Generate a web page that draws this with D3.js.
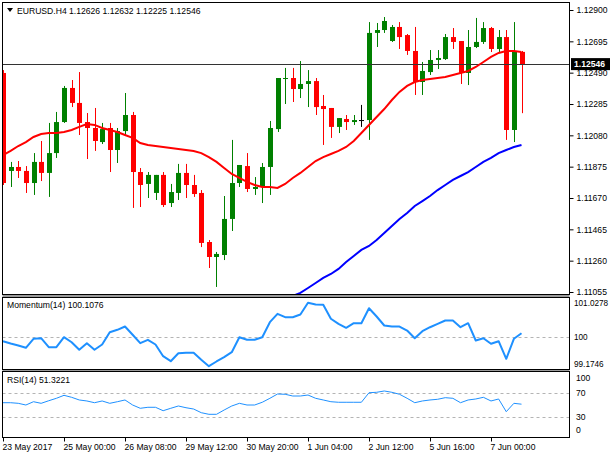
<!DOCTYPE html>
<html>
<head>
<meta charset="utf-8">
<script src="https://cdn.jsdelivr.net/npm/d3@7"></script>
<style>
  html, body { margin: 0; padding: 0; background: #fff; }
  svg { display: block; font-family: "Liberation Sans", Arial, sans-serif; }
</style>
</head>
<body>
<div id="chart"></div>
<script>
// EURUSD H4 candles
const opens = [1.12488,1.11847,1.11873,1.11847,1.11768,1.11906,1.11834,1.11964,1.12167,1.12390,
  1.12292,1.12167,1.12128,1.12036,1.12128,1.11984,1.12108,1.12213,1.11840,1.11762,
  1.11703,1.11821,1.11637,1.11703,1.11834,1.11755,1.11703,1.11382,1.11284,1.11297,
  1.11533,1.11768,1.11879,1.11729,1.11742,1.11873,1.12121,1.12449,1.12455,1.12383,
  1.12416,1.12435,1.12272,1.12259,1.12135,1.12187,1.12167,1.12180,1.12180,1.12750,
  1.12769,1.12697,1.12789,1.12736,1.12632,1.12429,1.12494,1.12573,1.12579,1.12723,
  1.12697,1.12488,1.12658,1.12691,1.12782,1.12645,1.12723,1.12115,1.12626];
const highs = [1.12507,1.11906,1.11912,1.11879,1.11964,1.12043,1.12161,1.12233,1.12403,1.12442,
  1.12494,1.12226,1.12259,1.12161,1.12161,1.12128,1.12357,1.12233,1.11866,1.11840,
  1.11821,1.11840,1.11762,1.11893,1.11893,1.11821,1.11722,1.11395,1.11317,1.11683,
  1.12050,1.11886,1.11964,1.11807,1.11899,1.12174,1.12455,1.12521,1.12521,1.12566,
  1.12507,1.12455,1.12344,1.12259,1.12193,1.12213,1.12213,1.12279,1.12821,1.12815,
  1.12854,1.12802,1.12821,1.12743,1.12789,1.12560,1.12638,1.12638,1.12743,1.12782,
  1.12697,1.12769,1.12848,1.12821,1.12789,1.12769,1.12769,1.12821,1.12632];
const lows = [1.11755,1.11742,1.11801,1.11703,1.11690,1.11781,1.11677,1.11932,1.12161,1.12265,
  1.12082,1.11925,1.11978,1.12023,1.11840,1.11899,1.12082,1.11605,1.11611,1.11670,
  1.11657,1.11611,1.11611,1.11657,1.11670,1.11677,1.11349,1.11212,1.11088,1.11264,
  1.11454,1.11742,1.11709,1.11690,1.11637,1.11690,1.12102,1.12285,1.12298,1.12324,
  1.12265,1.12213,1.12017,1.12063,1.12095,1.12115,1.12148,1.12135,1.12050,1.12658,
  1.12750,1.12691,1.12645,1.12606,1.12344,1.12344,1.12475,1.12514,1.12573,1.12645,
  1.12416,1.12409,1.12651,1.12678,1.12625,1.12619,1.12050,1.12036,1.12225];
const closes = [1.11768,1.11873,1.11847,1.11768,1.11906,1.11834,1.11964,1.12167,1.12390,1.12292,
  1.12161,1.12128,1.12043,1.12121,1.11984,1.12108,1.12213,1.11840,1.11755,1.11821,
  1.11821,1.11624,1.11709,1.11834,1.11755,1.11696,1.11376,1.11284,1.11304,1.11533,
  1.11768,1.11886,1.11729,1.11742,1.11873,1.12128,1.12455,1.12455,1.12383,1.12416,
  1.12435,1.12265,1.12252,1.12135,1.12193,1.12167,1.12180,1.12180,1.12750,1.12769,
  1.12828,1.12789,1.12723,1.12632,1.12429,1.12501,1.12573,1.12586,1.12723,1.12691,
  1.12488,1.12658,1.12691,1.12782,1.12645,1.12723,1.12115,1.12632,1.12546];

// moving averages (red fast, blue slow)
const maFast = [1.11951,1.11978,1.12010,1.12036,1.12069,1.12089,1.12095,1.12095,1.12102,1.12115,
  1.12135,1.12154,1.12148,1.12128,1.12115,1.12102,1.12082,1.12063,1.12030,1.12017,
  1.12010,1.12004,1.11997,1.11991,1.11984,1.11978,1.11964,1.11938,1.11906,1.11866,
  1.11827,1.11801,1.11775,1.11755,1.11742,1.11742,1.11736,1.11762,1.11801,1.11834,
  1.11873,1.11912,1.11938,1.11958,1.11978,1.12004,1.12043,1.12095,1.12148,1.12200,
  1.12252,1.12311,1.12364,1.12403,1.12429,1.12442,1.12449,1.12455,1.12462,1.12475,
  1.12488,1.12501,1.12527,1.12560,1.12593,1.12619,1.12632,1.12632,1.12625];
const maSlowStart = 38;
const maSlow = [1.11030,1.11049,1.11081,1.11114,1.11147,1.11173,1.11206,1.11251,1.11291,1.11330,1.11356,
  1.11395,1.11441,1.11487,1.11533,1.11572,1.11618,1.11650,1.11683,1.11722,1.11755,
  1.11788,1.11814,1.11840,1.11873,1.11906,1.11932,1.11964,1.11984,1.12004,1.12017];

const momentum = [99.903,99.844,99.792,99.733,99.965,99.980,99.749,99.749,100.006,99.877,
  99.682,99.852,99.682,99.818,100.135,100.196,100.281,100.068,99.852,99.939,
  99.818,99.517,99.388,99.594,99.604,99.604,99.424,99.260,99.381,99.491,
  99.620,100.006,99.939,99.939,100.006,100.392,100.608,100.521,100.521,100.590,
  100.891,100.848,100.840,100.480,100.351,100.248,100.366,100.366,100.752,100.539,
  100.307,100.281,100.281,100.178,99.980,100.160,100.263,100.351,100.436,100.436,
  100.263,100.366,99.921,99.980,99.836,99.903,99.450,99.965,100.1076];
const rsi = [53.7,53.7,52.7,50.0,55.3,52.7,56.9,60.8,65.6,62.4,
  58.1,56.5,53.7,56.5,52.7,55.3,58.1,50.0,44.7,46.3,
  46.3,40.8,44.7,48.4,45.6,43.5,37.6,35.0,35.0,41.9,
  48.4,52.7,50.0,50.0,54.4,60.8,67.7,67.3,64.5,64.5,
  66.1,60.8,58.1,55.3,54.4,54.4,54.4,54.4,69.8,70.5,
  72.6,70.5,67.3,60.8,53.7,56.5,58.1,59.2,61.8,60.8,
  53.7,58.1,59.7,62.4,56.5,59.7,39.2,52.7,51.3221];

const priceTicks = [1.12900,1.12695,1.12490,1.12285,1.12080,1.11875,1.11670,1.11465,1.11260,1.11055];
const momTicks = [101.0278, 100, 99.1746];
const rsiTicks = [100, 70, 30, 0];
const timeLabels = ["23 May 2017","25 May 00:00","26 May 08:00","29 May 12:00","30 May 20:00",
  "1 Jun 04:00","2 Jun 12:00","5 Jun 16:00","7 Jun 00:00"];
const timeLabelBars = [0,8,16,24,32,40,48,56,64];

const lastPrice = 1.12546;
const header = "EURUSD.H4  1.12626 1.12632 1.12225 1.12546";

const W = 610, H = 457;
const left = 2.5, right = 569.5;
const panels = {
    main: { top: 2.5, bottom: 294.5 },
    mom:  { top: 297.5, bottom: 369.5 },
    rsi:  { top: 371.5, bottom: 437.5 }
};

const svg = d3.select("#chart").append("svg")
    .attr("width", W).attr("height", H)
    .attr("font-size", 8.6);

// separators between windows
svg.append("rect").attr("x", left).attr("y", panels.main.bottom)
    .attr("width", right - left).attr("height", panels.mom.top - panels.main.bottom)
    .attr("fill", "#9a9a9a");
svg.append("rect").attr("x", left).attr("y", panels.mom.bottom)
    .attr("width", right - left).attr("height", panels.rsi.top - panels.mom.bottom)
    .attr("fill", "#9a9a9a");

// clip paths per panel
const defs = svg.append("defs");
for (const [k, p] of Object.entries(panels)) {
    defs.append("clipPath").attr("id", "clip-" + k)
        .append("rect").attr("x", left).attr("y", p.top)
        .attr("width", right - left).attr("height", p.bottom - p.top);
}

const n = closes.length;
const x = d3.scaleLinear().domain([0, n - 1]).range([3, 521.5]);
const y = d3.scaleLinear().domain([1.11055, 1.12900]).range([292, 10]);
const yMom = d3.scaleLinear().domain([99.1746, 101.0278]).range([panels.mom.bottom, panels.mom.top]);
const yRsi = d3.scaleLinear().domain([0, 100]).range([436, 374]);

const cx = i => Math.round(x(i)) + 0.5;

// ---- main window ----
const gMain = svg.append("g").attr("clip-path", "url(#clip-main)");

const candleColor = i => closes[i] > opens[i] ? "#008000" : closes[i] < opens[i] ? "#ff0000" : "#000";

gMain.append("g").selectAll("line")
    .data(d3.range(n))
    .join("line")
    .attr("x1", cx).attr("x2", cx)
    .attr("y1", i => y(highs[i])).attr("y2", i => y(lows[i]))
    .attr("stroke", candleColor).attr("stroke-width", 1);

gMain.append("g").selectAll("rect")
    .data(d3.range(n))
    .join("rect")
    .attr("x", i => cx(i) - 2.5)
    .attr("width", 5)
    .attr("y", i => y(Math.max(opens[i], closes[i])))
    .attr("height", i => Math.max(1, Math.abs(y(opens[i]) - y(closes[i]))))
    .attr("fill", candleColor);

// current price line
gMain.append("line")
    .attr("x1", left).attr("x2", right)
    .attr("y1", Math.round(y(lastPrice)) + 0.5).attr("y2", Math.round(y(lastPrice)) + 0.5)
    .attr("stroke", "#333").attr("stroke-width", 1);

const lineFast = d3.line().x((d, i) => x(i)).y(d => y(d));
gMain.append("path").datum(maFast)
    .attr("d", lineFast)
    .attr("fill", "none").attr("stroke", "#ff0000").attr("stroke-width", 2);

const lineSlow = d3.line().x((d, i) => x(i + maSlowStart)).y(d => y(d));
gMain.append("path").datum(maSlow)
    .attr("d", lineSlow)
    .attr("fill", "none").attr("stroke", "#0000ff").attr("stroke-width", 2);

// header
svg.append("path").attr("d", "M7,8 L13,8 L10,12 Z").attr("fill", "#000");
svg.append("text").attr("x", 17).attr("y", 13.5).attr("fill", "#000").text(header);

// price axis
svg.append("g")
    .attr("transform", `translate(${right},0)`)
    .call(d3.axisRight(y).tickValues(priceTicks).tickFormat(d3.format(".5f")).tickSize(4).tickPadding(3))
    .call(g => g.select(".domain").remove())
    .call(g => g.selectAll("line").attr("stroke", "#000"))
    .call(g => g.selectAll("text").attr("fill", "#000").attr("font-size", 8.6)
        .attr("font-family", "Liberation Sans, Arial, sans-serif"));

// last price marker
const lp = svg.append("g").attr("transform", `translate(0,${y(lastPrice)})`);
lp.append("rect").attr("x", 571).attr("y", -6).attr("width", 39).attr("height", 12).attr("fill", "#000");
lp.append("text").attr("x", 574).attr("y", 3.2).attr("fill", "#fff").attr("font-weight", "bold")
    .text(d3.format(".5f")(lastPrice));

// ---- momentum window ----
const gMom = svg.append("g").attr("clip-path", "url(#clip-mom)");
gMom.append("line")
    .attr("x1", left).attr("x2", right)
    .attr("y1", Math.round(yMom(100)) + 0.5).attr("y2", Math.round(yMom(100)) + 0.5)
    .attr("stroke", "#b4b4b4").attr("stroke-dasharray", "3,3");
gMom.append("path").datum(momentum)
    .attr("d", d3.line().x((d, i) => x(i)).y(d => yMom(d)))
    .attr("fill", "none").attr("stroke", "#1e90ff").attr("stroke-width", 2)
    .attr("stroke-linejoin", "round");
svg.append("text").attr("x", 7).attr("y", 308)
    .text("Momentum(14) " + d3.format(".4f")(momentum[n - 1]));

// ---- RSI window ----
const gRsi = svg.append("g").attr("clip-path", "url(#clip-rsi)");
for (const lvl of [70, 30]) {
    gRsi.append("line")
        .attr("x1", left).attr("x2", right)
        .attr("y1", Math.round(yRsi(lvl)) + 0.5).attr("y2", Math.round(yRsi(lvl)) + 0.5)
        .attr("stroke", "#b4b4b4").attr("stroke-dasharray", "3,3");
}
gRsi.append("path").datum(rsi)
    .attr("d", d3.line().x((d, i) => x(i)).y(d => yRsi(d)))
    .attr("fill", "none").attr("stroke", "#1e90ff").attr("stroke-width", 1);
svg.append("text").attr("x", 7).attr("y", 383)
    .text("RSI(14) " + d3.format(".4f")(rsi[n - 1]));

// panel frames
for (const p of Object.values(panels)) {
    svg.append("rect").attr("x", left).attr("y", p.top)
        .attr("width", right - left).attr("height", p.bottom - p.top)
        .attr("fill", "none").attr("stroke", "#000").attr("stroke-width", 1);
}

// indicator scale labels (top one nudged down, bottom one nudged up, like the terminal does)
const nudge = (sc, v) => {
    const [lo, hi] = sc.domain();
    return v === hi ? 8 : v === lo ? -3 : 3;
};
svg.append("g").selectAll("text").data(momTicks).join("text")
    .attr("x", 574).attr("y", d => yMom(d) + nudge(yMom, d))
    .attr("font-size", 8.2)
    .text(d => d);
svg.append("g").selectAll("text").data(rsiTicks).join("text")
    .attr("x", 576).attr("y", d => yRsi(d) + (d === 100 ? 7 : d === 0 ? -3 : 3))
    .text(d => d);

// time axis
const tg = svg.append("g");
tg.selectAll("line").data(timeLabelBars).join("line")
    .attr("x1", cx).attr("x2", cx)
    .attr("y1", panels.rsi.bottom).attr("y2", panels.rsi.bottom + 4)
    .attr("stroke", "#000");
tg.selectAll("text").data(timeLabelBars).join("text")
    .attr("x", d => cx(d) - 1).attr("y", 450)
    .text((d, i) => timeLabels[i]);
</script>
</body>
</html>
